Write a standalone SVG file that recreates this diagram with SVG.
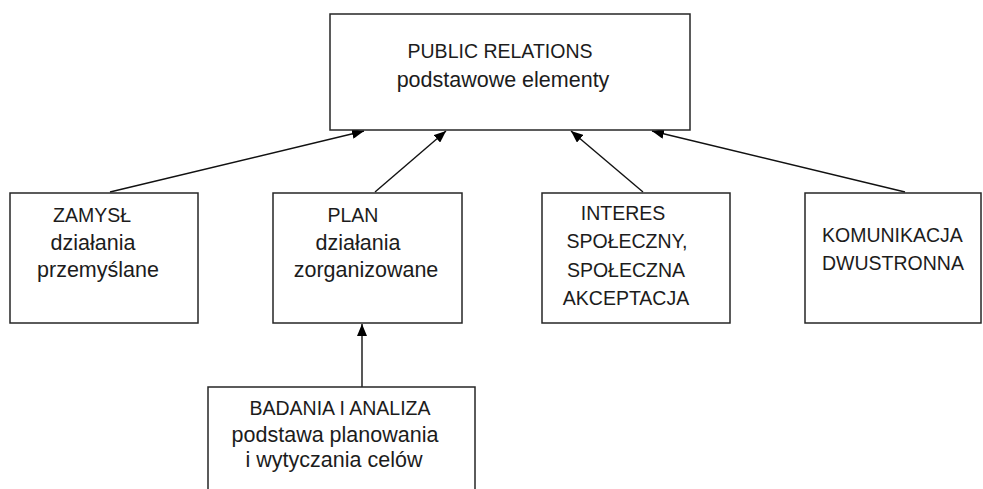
<svg xmlns="http://www.w3.org/2000/svg" width="983" height="489" viewBox="0 0 983 489">
  <style>
    .box { fill: #ffffff; stroke: #262626; stroke-width: 1.5; }
    .label { font-family: "Liberation Sans", Arial, sans-serif; fill: #1c1c1c; text-anchor: middle; }
    .cap { font-size: 19.5px; }
    .low { font-size: 21.5px; }
    .left { text-anchor: start; }
    .link { stroke: #111111; stroke-width: 1.4; fill: none; marker-end: url(#head); }
  </style>
  <defs>
    <marker id="head" viewBox="0 0 12 10" refX="12" refY="5" markerWidth="12" markerHeight="10" markerUnits="userSpaceOnUse" orient="auto">
      <path d="M0,0 L12,5 L0,10 Z" fill="#000000"/>
    </marker>
  </defs>

  <rect width="983" height="489" fill="#ffffff"/>

  <!-- connectors -->
  <g id="connectors">
    <line class="link" x1="110" y1="192" x2="364" y2="131"/>
    <line class="link" x1="375" y1="192" x2="446" y2="131"/>
    <line class="link" x1="643" y1="192" x2="571" y2="131"/>
    <line class="link" x1="905" y1="192" x2="652" y2="131"/>
    <line class="link" x1="362" y1="387" x2="362" y2="324"/>
  </g>

  <g id="public-relations">
    <rect class="box" x="330" y="14" width="360" height="116"/>
    <text class="label cap" x="500" y="58">PUBLIC RELATIONS</text>
    <text class="label low" x="503" y="87">podstawowe elementy</text>
  </g>

  <g id="zamysl">
    <rect class="box" x="10" y="193" width="188" height="130"/>
    <text class="label cap" x="92" y="222">ZAMYSŁ</text>
    <text class="label low" x="93" y="250">działania</text>
    <text class="label low" x="98" y="277">przemyślane</text>
  </g>

  <g id="plan">
    <rect class="box" x="273" y="193" width="189" height="130"/>
    <text class="label cap" x="353" y="222">PLAN</text>
    <text class="label low" x="358" y="250">działania</text>
    <text class="label low" x="366" y="277">zorganizowane</text>
  </g>

  <g id="interes">
    <rect class="box" x="542" y="193" width="188" height="130"/>
    <text class="label cap" x="623" y="220">INTERES</text>
    <text class="label cap" x="627" y="248">SPOŁECZNY,</text>
    <text class="label cap" x="626" y="277">SPOŁECZNA</text>
    <text class="label cap" x="626" y="305">AKCEPTACJA</text>
  </g>

  <g id="komunikacja">
    <rect class="box" x="805" y="193" width="176" height="130"/>
    <text class="label cap left" x="822" y="242">KOMUNIKACJA</text>
    <text class="label cap left" x="822" y="270">DWUSTRONNA</text>
  </g>

  <g id="badania">
    <rect class="box" x="208" y="387" width="267" height="110"/>
    <text class="label cap" x="340" y="415">BADANIA I ANALIZA</text>
    <text class="label low" x="335" y="442">podstawa planowania</text>
    <text class="label low" x="334" y="467">i wytyczania celów</text>
  </g>
</svg>
